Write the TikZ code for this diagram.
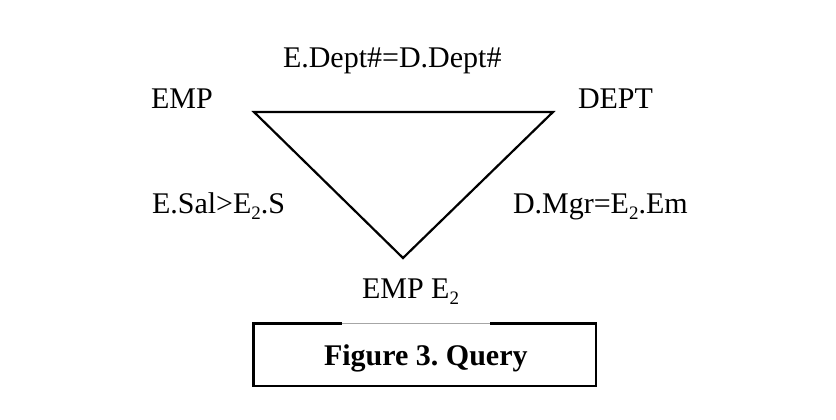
\documentclass[tikz,border=0pt]{standalone}
\usepackage{fontspec}
\setmainfont{Liberation Serif}
\newcommand\mysub[1]{\raisebox{-0.22em}{\fontsize{19}{20}\selectfont #1}}
\begin{document}
\begin{tikzpicture}[x=1pt,y=-1pt,
  lbl/.style={inner sep=0pt, outer sep=0pt, anchor=base west, font=\fontsize{30}{33}\selectfont\frenchspacing},
  edge/.style={line width=2.2pt, line join=miter},
  frame/.style={line width=2.2pt, line join=miter}]
\useasboundingbox (0,0) rectangle (836,420);
\coordinate (a) at (254,112);
\coordinate (b) at (553,112);
\coordinate (c) at (403,258);
\draw[edge] (a) -- (b) -- (c) -- cycle;
\node[lbl] (top) at (283,67) {E.Dept\#=D.Dept\#};
\node[lbl] (emp) at (151,108) {EMP};
\node[lbl] (dept) at (578,108) {DEPT};
\node[lbl] (left) at (152,213) {E.Sal>E\mysub{2}.S};
\node[lbl] (right) at (513,213) {D.Mgr=E\mysub{2}.Em};
\node[lbl] (emp2) at (362,298) {EMP E\mysub{2}};
\coordinate (b1) at (253.5,323.5);
\coordinate (b2) at (596,386);
\draw[frame] (490,323.5) -- (596,323.5) -- (b2) -- (253.5,386) -- (b1) -- (342,323.5);
\draw[gray!70, line width=1pt] (342,323) -- (490,323);
\node[lbl, font=\fontsize{30}{33}\selectfont\bfseries\frenchspacing] (cap) at (324,365) {Figure 3. Query};
\end{tikzpicture}
\end{document}
